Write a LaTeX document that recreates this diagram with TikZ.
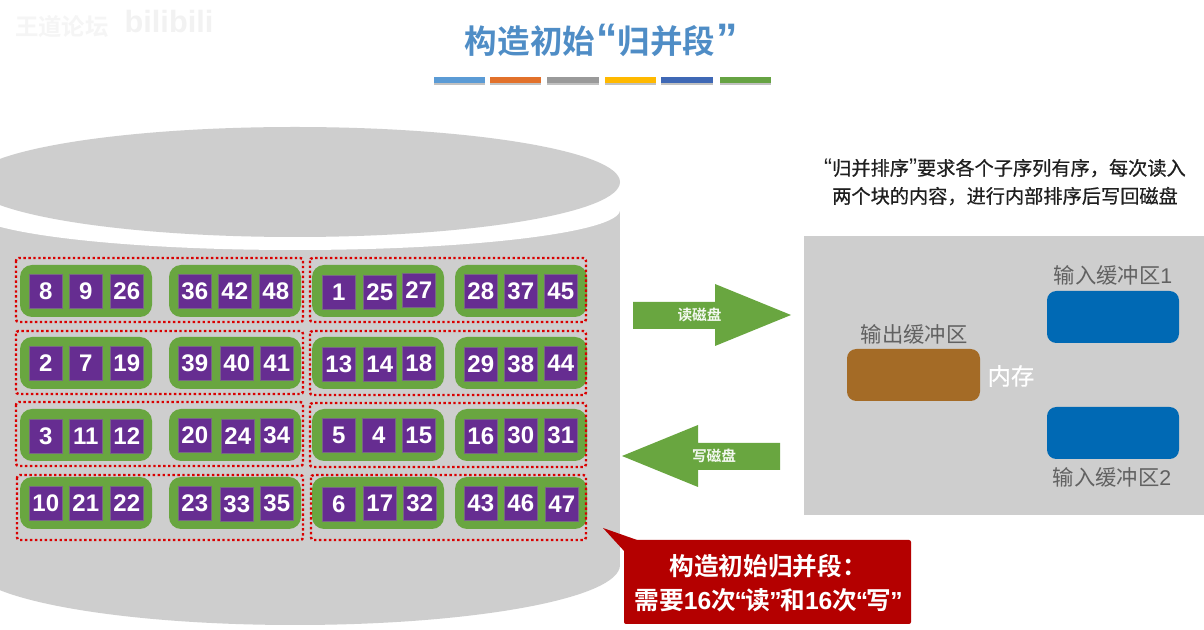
\documentclass[tikz,border=0pt]{standalone}
\usepackage{fontspec}
\setmainfont{Noto Sans CJK SC}
\newfontfamily\cjkbold[FakeBold=0]{Noto Sans CJK SC Bold}
\newfontfamily\cjkmed[FakeBold=0.6]{Noto Sans CJK SC}
\newfontfamily\numfont{Liberation Sans Bold}
\newfontfamily\lat{Liberation Sans}
\newfontfamily\latb{Liberation Sans Bold}
\definecolor{dgray}{HTML}{CECECE}
\definecolor{dgreen}{HTML}{69A640}
\definecolor{dpurple}{HTML}{662D91}
\definecolor{dred}{HTML}{B40000}
\definecolor{dblue}{HTML}{0069B4}
\definecolor{dbrown}{HTML}{A46B26}
\definecolor{titleblue}{HTML}{4F8DC6}
\tikzset{
  x=0.75pt,y=-0.75pt,
  cellbox/.style={draw=gray!70!dpurple,line width=0.5pt,fill=dpurple,minimum width=24.75pt,minimum height=25.5pt,inner sep=0pt,text=white,font=\numfont\fontsize{18}{18}\selectfont,anchor=north west},
  greenbox/.style={fill=dgreen,rounded corners=9pt},
  reddot/.style={draw=red!85!black,line width=1.8pt,dash pattern=on 1.8pt off 1.9pt,rounded corners=2pt},
  bufblue/.style={fill=dblue,rounded corners=7pt},
  graylabel/.style={text=black!62,font=\fontsize{16}{16}\selectfont,inner sep=0pt},
  arrowlabel/.style={text=white!92!dgreen,font=\cjkbold\fontsize{11}{11}\selectfont,inner sep=0pt},
  barshadow/.style={fill=black!40,opacity=0.6},
}
\newcommand{\cellat}[3]{\node[cellbox] (c#3) at (#1,#2) {#3};}
\newcommand{\qL}{{\latb\kern-1pt“\kern-0.9pt}}
\newcommand{\qR}{{\latb\kern-0.9pt”\kern-1pt}}
\begin{document}
\begin{tikzpicture}
\useasboundingbox (0,0) rectangle (1204,630);
\fill[white] (0,0) rectangle (1204,630);
% watermark
\node[text=black!4,font=\cjkbold\fontsize{17.5}{18}\selectfont,inner sep=0pt] (wm) at (62,27) {王道论坛};
\node[text=black!5,font=\latb\fontsize{23}{26}\selectfont,inner sep=0pt] (wm2) at (169,22) {bilibili};
% title
\node[text=titleblue,font=\cjkbold\fontsize{24.4}{26}\selectfont,inner sep=0pt] (title) at (601.5,40) {构造初始{\latb\fontsize{32}{26}\selectfont\kern1pt“}归并段{\latb\fontsize{32}{26}\selectfont\kern1pt”}};
% bars
\foreach \a/\b/\c in {434/485/5B9BD5,490/541/E2712B,547/599/9A9A9A,605/656/FFB900,661/713/3F68B5,720/771/66A343}{
  \definecolor{barc}{HTML}{\c}
  \fill[barshadow] (\a,79) rectangle (\b,85);
  \fill[barc] (\a,77) rectangle (\b,83);
}
% cylinder
\fill[dgray] (-30,210) rectangle (620,565);
\fill[dgray] (295,565) ellipse [x radius=325,y radius=60];
\fill[white] (295,210) ellipse [x radius=325,y radius=40];
\fill[white] (-30,150) rectangle (620,210);
\fill[dgray] (295,182) ellipse [x radius=325,y radius=55];
% groups
\foreach \y in {265,337,409,477}{
  \foreach \x in {20,169,312,455}{
    \fill[greenbox] (\x,\y) rectangle ++(132,52);
  }
}
% red dotted
\draw[reddot] (16,258) rectangle (303,322);
\draw[reddot] (16,331) rectangle (303,394);
\draw[reddot] (16,402) rectangle (303,466);
\draw[reddot] (17,475) rectangle (303,540);
\draw[reddot] (310,258) rectangle (586,322);
\draw[reddot] (310,331) rectangle (586,395);
\draw[reddot] (310,403) rectangle (586,467);
\draw[reddot] (311,475) rectangle (586,540);
% cells
\cellat{29}{274}{8}\cellat{69}{274}{9}\cellat{110}{274}{26}
\cellat{178}{274}{36}\cellat{218}{274}{42}\cellat{259}{274}{48}
\cellat{322}{275}{1}\cellat{363}{275}{25}\cellat{402}{273}{27}
\cellat{464}{274}{28}\cellat{504}{274}{37}\cellat{544}{274}{45}
\cellat{29}{346}{2}\cellat{69}{346}{7}\cellat{110}{346}{19}
\cellat{178}{346}{39}\cellat{220}{346}{40}\cellat{260}{346}{41}
\cellat{322}{347}{13}\cellat{363}{347}{14}\cellat{402}{346}{18}
\cellat{464}{347}{29}\cellat{504}{347}{38}\cellat{544}{346}{44}
\cellat{29}{419}{3}\cellat{69}{419}{11}\cellat{110}{419}{12}
\cellat{178}{418}{20}\cellat{221}{419}{24}\cellat{260}{418}{34}
\cellat{322}{418}{5}\cellat{362}{418}{4}\cellat{402}{418}{15}
\cellat{464}{419}{16}\cellat{504}{418}{30}\cellat{544}{418}{31}
\cellat{29}{486}{10}\cellat{69}{486}{21}\cellat{110}{486}{22}
\cellat{178}{486}{23}\cellat{220}{487}{33}\cellat{260}{486}{35}
\cellat{322}{487}{6}\cellat{363}{486}{17}\cellat{403}{486}{32}
\cellat{464}{486}{43}\cellat{504}{486}{46}\cellat{545}{487}{47}
% arrows
\fill[dgreen] (633,302) -- (715,302) -- (715,284) -- (791,315) -- (715,346) -- (715,329) -- (633,329) -- cycle;
\node[arrowlabel] (readlbl) at (699.5,315) {读磁盘};
\fill[dgreen] (780,443) -- (698,443) -- (698,425) -- (622,456) -- (698,487) -- (698,470) -- (780,470) -- cycle;
\node[arrowlabel] (writelbl) at (714,456) {写磁盘};
% right note
\node[align=center,text=black!88,font=\cjkmed\fontsize{14.4}{21}\selectfont,inner sep=0pt] (note) at (1005,182) {{\lat\fontsize{18}{21}\selectfont“}归并排序{\lat\fontsize{18}{21}\selectfont”}要求各个子序列有序，每次读入\\两个块的内容，进行内部排序后写回磁盘};
% memory panel
\fill[dgray] (804,236) rectangle (1204,515);
\fill[dbrown,rounded corners=7pt] (847,349) rectangle (980,401);
\fill[bufblue] (1047,291) rectangle (1179,343);
\fill[bufblue] (1047,407) rectangle (1179,459);
\node[graylabel] (outl) at (914,334) {输出缓冲区};
\node[graylabel] (in1) at (1113,275) {输入缓冲区{\lat 1}};
\node[graylabel] (in2) at (1112,477) {输入缓冲区{\lat 2}};
\node[text=white,font=\cjkmed\fontsize{17.5}{18}\selectfont,inner sep=0pt] (mem) at (1011,376) {内存};
% callout
\fill[dred,rounded corners=1.5pt] (624,540) rectangle (911,624);
\fill[dred] (603,528) -- (640,541) -- (625,552) -- cycle;
\node[text=white,align=center,font=\cjkbold\fontsize{18.5}{25.5}\selectfont,inner sep=0pt] (callout) at (768,583) {构造初始归并段：\\需要{\latb 16}次\qL 读\qR 和{\latb 16}次\qL 写\qR};
\end{tikzpicture}
\end{document}
